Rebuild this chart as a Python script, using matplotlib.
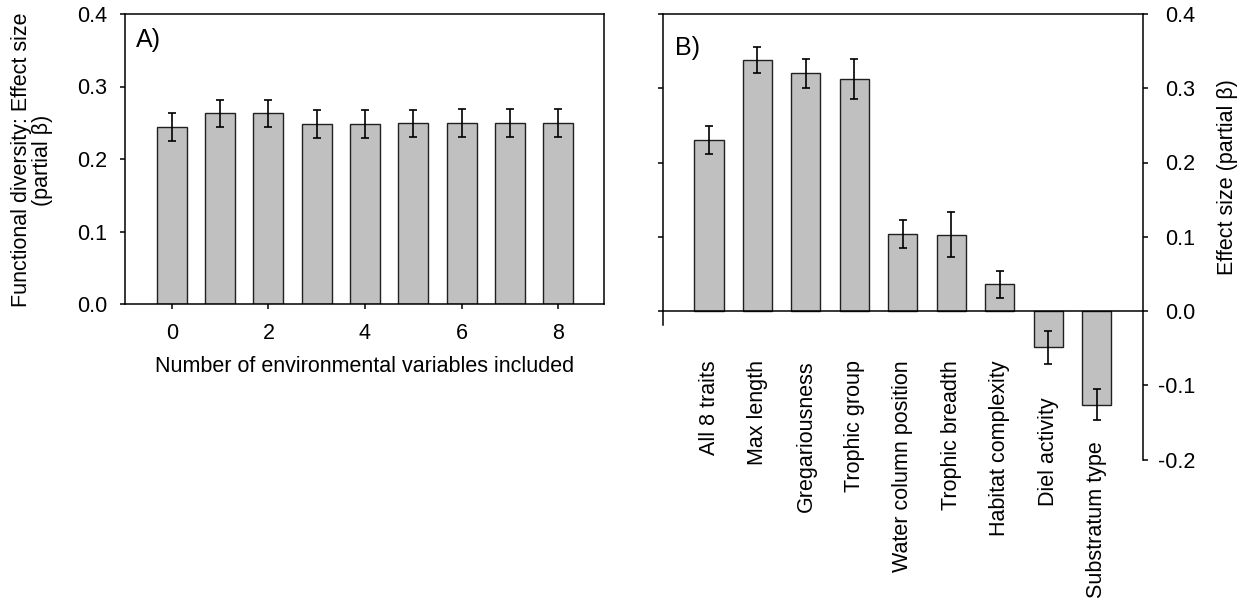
import numpy as np
import matplotlib
matplotlib.use("Agg")
import matplotlib.pyplot as plt

plt.rcParams['font.family'] = ['Liberation Sans', 'DejaVu Sans']
plt.rcParams['axes.unicode_minus'] = False

# panel A: effect size vs number of environmental variables
n_env = [0, 1, 2, 3, 4, 5, 6, 7, 8]
beta_a = [0.244, 0.263, 0.263, 0.248, 0.248, 0.249, 0.250, 0.250, 0.250]
err_a = [0.019, 0.019, 0.019, 0.019, 0.019, 0.019, 0.019, 0.019, 0.019]

# panel B: effect size per trait
traits = ['All 8 traits', 'Max length', 'Gregariousness', 'Trophic group',
          'Water column position', 'Trophic breadth', 'Habitat complexity',
          'Diel activity', 'Substratum type']
beta_b = [0.230, 0.338, 0.320, 0.313, 0.104, 0.103, 0.036, -0.049, -0.126]
err_b = [0.019, 0.018, 0.019, 0.027, 0.019, 0.030, 0.018, 0.022, 0.021]

W, H = 1244, 604
fs = 15.5
bar_col = '#c0c0c0'
fig = plt.figure(figsize=(W / 100, H / 100), dpi=100)

#### panel A
ax = fig.add_axes([125 / W, (H - 304) / H, 479 / W, 290 / H])
ax.bar(n_env, beta_a, width=0.62, color=bar_col, edgecolor='#202020', linewidth=1.0, zorder=2)
ax.errorbar(n_env, beta_a, yerr=err_a, fmt='none', ecolor='black', elinewidth=1.2,
            capsize=3.1, capthick=1.2, zorder=3)
ax.set_xlim(-0.97, 8.95)
ax.set_ylim(0, 0.4)
ax.set_xticks([0, 2, 4, 6, 8])
ax.set_yticks([0.0, 0.1, 0.2, 0.3, 0.4])
ax.set_yticklabels(['0.0', '0.1', '0.2', '0.3', '0.4'])
ax.tick_params(axis='both', direction='out', length=3.6, width=1.1, labelsize=fs)
ax.tick_params(axis='y', pad=9)
ax.tick_params(axis='x', pad=10)
for s in ax.spines.values():
    s.set_linewidth(1.1)
ax.set_xlabel('Number of environmental variables included', fontsize=fs, labelpad=9)
ax.text(0.022, 0.95, 'A)', transform=ax.transAxes, fontsize=18, ha='left', va='top')
fig.text(32 / W, 1 - 160 / H, 'Functional diversity: Effect size\n(partial \u03b2)',
         rotation=90, ha='center', va='center', fontsize=fs, linespacing=1.0,
         multialignment='center')

#### panel B
bx = fig.add_axes([663 / W, (H - 459.5) / H, 480 / W, 445.5 / H])
# move the x axis to y=0 first, set_position resets tick styling
bx.spines['bottom'].set_position(('data', 0))
bx.spines['right'].set_visible(False)
bx.spines['left'].set_bounds(-0.019, 0.4)
for s in bx.spines.values():
    s.set_linewidth(1.1)

x = np.arange(len(traits))
bx.bar(x, beta_b, width=0.6, color=bar_col, edgecolor='#202020', linewidth=1.0, zorder=2)
bx.errorbar(x, beta_b, yerr=err_b, fmt='none', ecolor='black', elinewidth=1.2,
            capsize=3.1, capthick=1.2, zorder=3)
bx.set_xlim(-0.95, 8.96)
bx.set_ylim(-0.2, 0.4)
bx.set_xticks(x)
bx.set_xticklabels([])
bx.tick_params(axis='x', length=0)
bx.set_yticks([0.0, 0.1, 0.2, 0.3, 0.4])
bx.tick_params(axis='y', direction='out', length=3.6, width=1.1, labelleft=False)
bx.text(0.025, 0.95, 'B)', transform=bx.transAxes, fontsize=18, ha='left', va='top')

# category labels hang below the zero line, pushed down under the negative bars
label_top = [-0.066] * 7 + [-0.116, -0.176]
for i, lab in enumerate(traits):
    bx.text(x[i], label_top[i], lab, rotation=90, ha='center', va='top',
            fontsize=fs, clip_on=False)

bx2 = bx.twinx()
bx2.set_ylim(-0.2, 0.4)
for k in ['left', 'top', 'bottom']:
    bx2.spines[k].set_visible(False)
bx2.spines['right'].set_linewidth(1.1)
bx2.set_yticks([-0.2, -0.1, 0.0, 0.1, 0.2, 0.3, 0.4])
bx2.set_yticklabels(['-0.2', '-0.1', '0.0', '0.1', '0.2', '0.3', '0.4'])
bx2.tick_params(axis='y', direction='out', length=3.6, width=1.1, labelsize=fs, pad=34)
for t in bx2.get_yticklabels():
    t.set_horizontalalignment('right')
fig.text(1227 / W, 1 - 177 / H, 'Effect size (partial \u03b2)', rotation=90,
         ha='center', va='center', fontsize=fs)

fig.savefig('out.png', dpi=100)
